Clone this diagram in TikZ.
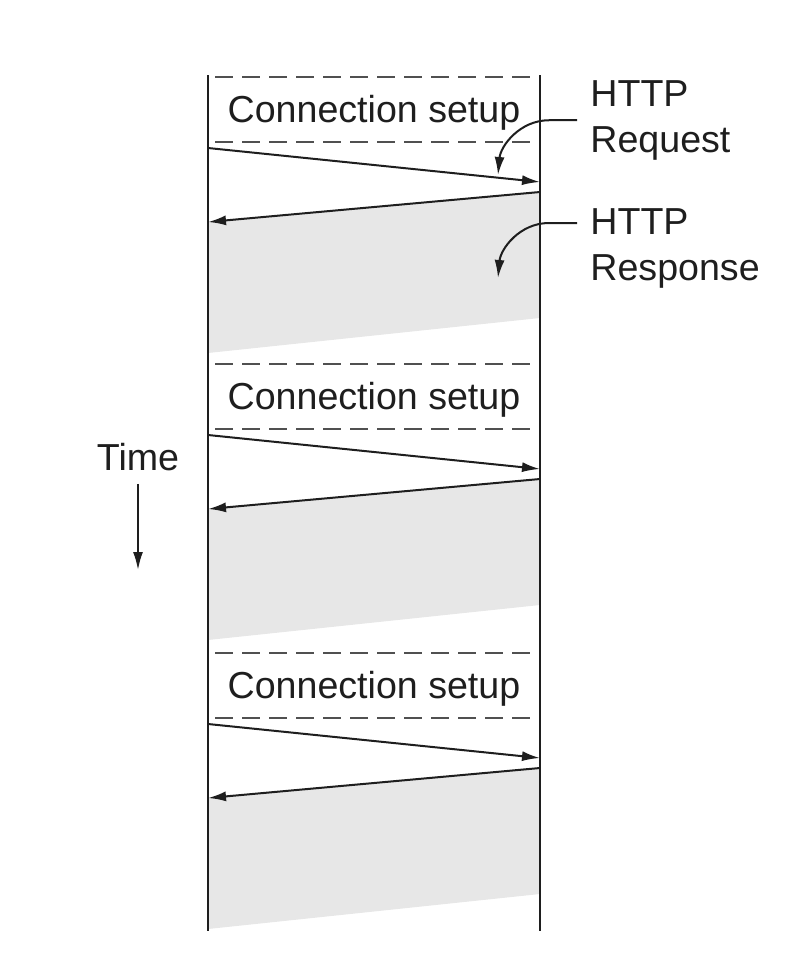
\documentclass[tikz,border=0pt]{standalone}
\usepackage{fontspec}
\setmainfont{Liberation Sans}
\usetikzlibrary{arrows.meta, positioning}
\definecolor{shade}{RGB}{231,231,231}
\definecolor{ink}{RGB}{30,30,30}
\definecolor{dashgray}{RGB}{80,80,80}

\begin{document}
\begin{tikzpicture}
    [
        x=0.5pt, y=-0.5pt,
        >={Latex[length=9pt,width=5pt]},
        lbl/.style={text=ink, font=\fontsize{18.8}{23}\selectfont, inner sep=0pt},
        side/.style={draw=ink, line width=0.8pt},
        sep/.style={draw=dashgray, line width=1pt, dash pattern=on 9pt off 4.5pt, dash phase=-3.5pt},
        msg/.style={draw=ink, line width=1pt, ->},
        busy/.style={fill=shade, draw=none}
    ]
    \useasboundingbox (0,0) rectangle (804,970);

    % the two ends of the connection
    \coordinate (c_top) at (208,75);
    \coordinate (c_bot) at (208,931);
    \coordinate (s_top) at (540,75);
    \coordinate (s_bot) at (540,931);

    % first request
    \coordinate (req1_a) at (208,148);
    \coordinate (req1_b) at (540,182);
    \coordinate (resp1_a) at (540,192);
    \coordinate (resp1_b) at (208,222);
    \fill[busy] (resp1_a) -- (resp1_b) -- (208,353) -- (540,318) -- cycle;
    \draw[sep] (208,77) -- (540,77);
    \draw[sep] (208,142) -- (540,142);
    \node[lbl, anchor=base] (setup1) at (374,122) {Connection setup};
    \draw[msg] (req1_a) -- (req1_b);
    \draw[msg] (resp1_a) -- (resp1_b);

    % second request
    \coordinate (req2_a) at (208,435);
    \coordinate (req2_b) at (540,469);
    \coordinate (resp2_a) at (540,479);
    \coordinate (resp2_b) at (208,509);
    \fill[busy] (resp2_a) -- (resp2_b) -- (208,640) -- (540,605) -- cycle;
    \draw[sep] (208,364) -- (540,364);
    \draw[sep] (208,429) -- (540,429);
    \node[lbl, anchor=base] (setup2) at (374,409) {Connection setup};
    \draw[msg] (req2_a) -- (req2_b);
    \draw[msg] (resp2_a) -- (resp2_b);

    % third request
    \coordinate (req3_a) at (208,724);
    \coordinate (req3_b) at (540,758);
    \coordinate (resp3_a) at (540,768);
    \coordinate (resp3_b) at (208,798);
    \fill[busy] (resp3_a) -- (resp3_b) -- (208,929) -- (540,894) -- cycle;
    \draw[sep] (208,653) -- (540,653);
    \draw[sep] (208,718) -- (540,718);
    \node[lbl, anchor=base] (setup3) at (374,698) {Connection setup};
    \draw[msg] (req3_a) -- (req3_b);
    \draw[msg] (resp3_a) -- (resp3_b);

    \draw[side] (c_top) -- (c_bot);
    \draw[side] (s_top) -- (s_bot);

    % labels on the right
    \node[lbl, anchor=north west, align=left] (req) at (590,80) {HTTP\\Request};
    \node[lbl, anchor=north west, align=left] (resp) at (590,208) {HTTP\\Response};
    \coordinate[left=6.5pt of req] (req_from);
    \coordinate[below left=7.5pt and 6.5pt of resp.north west] (resp_from);
    \coordinate (req_to) at (498,175);
    \coordinate (resp_to) at (498,278);
    \draw[msg] (req_from) -- ++(-28,0) to[out=180, in=85] (req_to);
    \draw[msg] (resp_from) -- ++(-28,0) to[out=180, in=85] (resp_to);

    % time axis
    \node[lbl, anchor=base] (time) at (138,470) {Time};
    \coordinate[below=6.5pt of time] (time_a);
    \coordinate (time_b) at (138,570);
    \draw[msg] (time_a) -- (time_b);

\end{tikzpicture}
\end{document}
